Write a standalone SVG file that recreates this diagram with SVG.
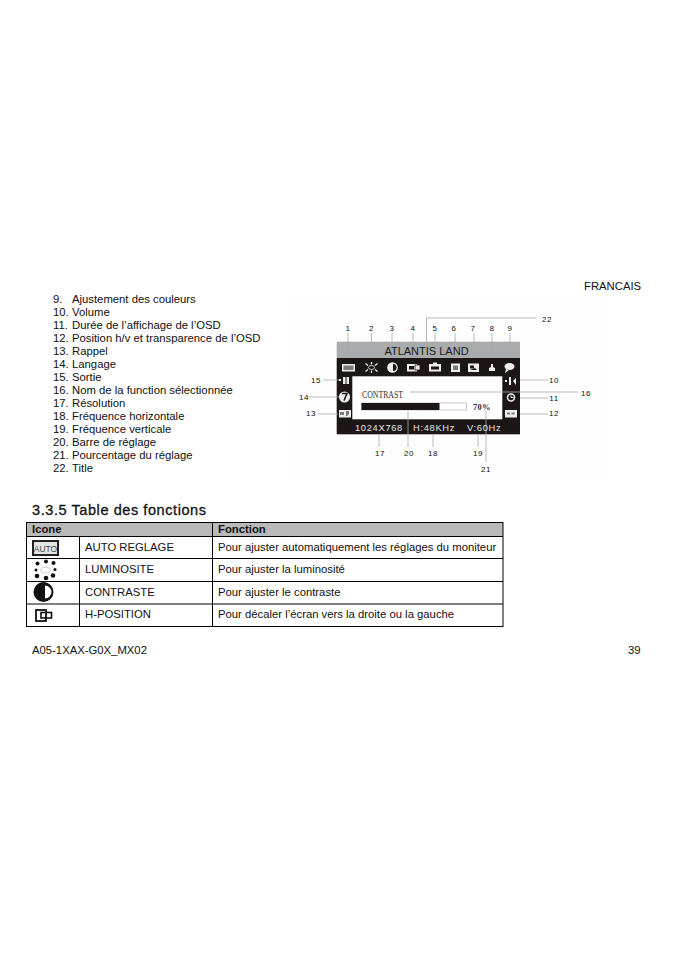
<svg xmlns="http://www.w3.org/2000/svg" width="674" height="954" viewBox="0 0 674 954">
<style>
text{font-family:"Liberation Sans",Arial,sans-serif;fill:#111}
.t{font-size:11.3px}
.h{font-size:11.3px;font-weight:bold}
.n{font-family:"Liberation Serif",serif;font-size:8px;fill:#444;text-anchor:middle;letter-spacing:.6px}
.c line,.c path{stroke:#aaa;stroke-width:.8;fill:none}
.g line{stroke:#000;stroke-width:1}
.w{fill:#eee}
.k{fill:#1c1716}
.m{fill:#7a7a7a}
.o{fill:#e6e6e6;font-size:9.300px;letter-spacing:.7px}
.s{font-family:"Liberation Serif",serif;fill:#333}
</style>
<rect width="674" height="954" fill="#fff"/>
<rect x="288" y="296" width="314" height="182" fill="#fdfdfd"/>
<text class="t" x="584" y="290">FRANCAIS</text>
<g id="list" class="t">
<text x="53" y="303">9.</text><text x="72" y="303">Ajustement des couleurs</text>
<text x="53" y="316">10.</text><text x="72" y="316">Volume</text>
<text x="53" y="329">11.</text><text x="72" y="329">Durée de l’affichage de l’OSD</text>
<text x="53" y="342">12.</text><text x="72" y="342">Position h/v et transparence de l’OSD</text>
<text x="53" y="355">13.</text><text x="72" y="355">Rappel</text>
<text x="53" y="368">14.</text><text x="72" y="368">Langage</text>
<text x="53" y="381">15.</text><text x="72" y="381">Sortie</text>
<text x="53" y="394">16.</text><text x="72" y="394">Nom de la function sélectionnée</text>
<text x="53" y="407">17.</text><text x="72" y="407">Résolution</text>
<text x="53" y="420">18.</text><text x="72" y="420">Fréquence horizontale</text>
<text x="53" y="433">19.</text><text x="72" y="433">Fréquence verticale</text>
<text x="53" y="446">20.</text><text x="72" y="446">Barre de réglage</text>
<text x="53" y="459">21.</text><text x="72" y="459">Pourcentage du réglage</text>
<text x="53" y="472">22.</text><text x="72" y="472">Title</text>
</g>
<g id="osd">
<rect x="336.700" y="341.700" width="183.300" height="16.500" fill="#a9abad"/>
<rect class="k" x="336.700" y="358" width="183.300" height="76.300"/>
<rect x="352.300" y="376.300" width="150" height="43" fill="#fff"/>
</g>
<g id="connectors" class="c">
<path d="M426.500 353V318H537"/>
<line x1="348" y1="333" x2="348" y2="358"/>
<line x1="371.500" y1="333" x2="371.500" y2="358"/>
<line x1="392" y1="333" x2="392" y2="358"/>
<line x1="413" y1="333" x2="413" y2="358"/>
<line x1="435" y1="333" x2="435" y2="358"/>
<line x1="455" y1="333" x2="455" y2="358"/>
<line x1="474" y1="333" x2="474" y2="358"/>
<line x1="492" y1="333" x2="492" y2="358"/>
<line x1="510" y1="333" x2="510" y2="358"/>
<line x1="323" y1="380" x2="340" y2="380"/>
<line x1="308" y1="397" x2="340" y2="397"/>
<line x1="318" y1="414" x2="338" y2="414"/>
<line x1="520" y1="380" x2="548" y2="380"/>
<line x1="520" y1="398" x2="548" y2="398"/>
<line x1="520" y1="414" x2="548" y2="414"/>
<line x1="410" y1="392" x2="578" y2="392"/>
<line x1="379" y1="434" x2="379" y2="447"/>
<line x1="408" y1="411" x2="408" y2="447"/>
<line x1="433" y1="434" x2="433" y2="447"/>
<line x1="478" y1="434" x2="478" y2="447"/>
<line x1="486" y1="411" x2="486" y2="462"/>
</g>
<g id="osd-text">
<text x="426.500" y="355" font-size="11" text-anchor="middle" style="fill:#1a1a1a">ATLANTIS LAND</text>
<text class="s" x="362" y="398" font-size="9.500" textLength="41" lengthAdjust="spacingAndGlyphs">CONTRAST</text>
<rect x="361.500" y="403" width="105" height="7" fill="#fff" stroke="#bbb" stroke-width=".8"/>
<rect class="k" x="361.500" y="403" width="78" height="7"/>
<text class="s" x="473" y="410" font-size="8.500" font-weight="bold" letter-spacing=".3">70%</text>
<text class="o" x="355" y="431">1024X768</text>
<text class="o" x="413" y="431">H:48KHz</text>
<text class="o" x="467" y="431">V:60Hz</text>
</g>
<g id="osd-icons">
<g id="i1"><rect class="w" x="342" y="364" width="13" height="7.500"/><rect class="m" x="343.500" y="365.500" width="10" height="4.500"/></g>
<g id="i2"><ellipse cx="371.500" cy="367.500" rx="3" ry="2" fill="none" stroke="#eee" stroke-width=".8"/><g stroke="#eee" stroke-width="1.300"><line x1="365.500" y1="363.500" x2="368" y2="365.500"/><line x1="377.500" y1="363.500" x2="375" y2="365.500"/><line x1="365.500" y1="371.500" x2="368" y2="369.500"/><line x1="377.500" y1="371.500" x2="375" y2="369.500"/><line x1="371.500" y1="362" x2="371.500" y2="364.500"/><line x1="371.500" y1="370.500" x2="371.500" y2="373"/></g></g>
<g id="i3"><circle class="w" cx="392.500" cy="367.500" r="5.300"/><path class="k" d="M393 364a3.500 3.500 0 0 1 0 7z"/></g>
<g id="i4"><rect class="w" x="407" y="364" width="10" height="7.500"/><rect class="w" x="415" y="365" width="5" height="5" stroke="#1c1716" stroke-width=".8"/><rect class="k" x="409" y="366" width="5" height="3.500"/></g>
<g id="i5"><rect class="w" x="429" y="364" width="12" height="7.500"/><rect class="k" x="431" y="366.500" width="8" height="3"/><rect class="w" x="433" y="362.500" width="4" height="2"/></g>
<g id="i6"><rect class="w" x="451" y="363.500" width="9" height="8.500"/><rect class="m" x="453" y="365.500" width="5" height="4.500"/></g>
<g id="i7"><rect class="w" x="468" y="363.500" width="11" height="8.500"/><rect class="k" x="470" y="365.500" width="4" height="3"/><path class="k" d="M470 370l5-2 2 2z"/></g>
<path id="i8" class="w" d="M489 371v-3l2-1v-3h2v3l2 1v3z"/>
<g id="i9"><ellipse class="w" cx="509.500" cy="366.500" rx="5" ry="3.500"/><path class="w" d="M506 369l-1 4 4-3z"/></g>
<g id="i10" class="w"><rect x="505" y="380" width="2" height="2"/><rect x="509" y="377" width="2" height="8"/><path d="M513 381l3-3v7z"/></g>
<g id="i11"><circle class="w" cx="511" cy="397.500" r="4.300"/><circle class="k" cx="511" cy="397.500" r="2.800"/><path d="M511 395.500v2h2.500" stroke="#eee" fill="none"/></g>
<g id="i12"><rect class="w" x="505" y="410" width="12" height="7.500"/><rect class="m" x="507" y="412.500" width="3" height="2"/><rect class="m" x="511.500" y="412.500" width="3" height="2"/></g>
<g id="i13"><rect class="w" x="339" y="410" width="12" height="7.500"/><path class="m" d="M340 412h4v3h-4zM346 411h3v3l-2 2h-1z"/></g>
<g id="i14"><circle class="w" cx="344.500" cy="397" r="5.500"/><path d="M342 393.500h5l-3 7" stroke="#1c1716" stroke-width="1.600" fill="none"/></g>
<g id="i15" class="w"><rect x="339" y="379" width="2" height="2"/><rect x="343" y="377" width="2.500" height="7"/><rect x="346.500" y="377" width="2.500" height="7"/></g>
</g>
<g id="numbers" class="n">
<text x="348" y="331">1</text><text x="371.500" y="331">2</text><text x="392" y="331">3</text><text x="413" y="331">4</text><text x="435" y="331">5</text><text x="454" y="331">6</text><text x="473" y="331">7</text><text x="492" y="331">8</text><text x="510" y="331">9</text>
<text x="547" y="321.500">22</text>
<text x="316" y="383">15</text><text x="304" y="400">14</text><text x="311" y="416">13</text>
<text x="554" y="383">10</text><text x="554" y="401">11</text><text x="554" y="416">12</text><text x="586" y="396">16</text>
<text x="380" y="456">17</text><text x="409" y="456">20</text><text x="433" y="456">18</text><text x="478" y="456">19</text><text x="486" y="472">21</text>
</g>
<text id="title" x="32" y="515" textLength="174" lengthAdjust="spacing" style="font-size:14.500px;stroke:#111;stroke-width:.3px">3.3.5 Table des fonctions</text>
<g id="table" class="g">
<rect x="26.500" y="522.500" width="476.500" height="14" fill="#b9b9b9"/>
<line x1="26.500" y1="522.500" x2="503" y2="522.500"/>
<line x1="26.500" y1="536.500" x2="503" y2="536.500"/>
<line x1="26.500" y1="558.500" x2="503" y2="558.500"/>
<line x1="26.500" y1="581.500" x2="503" y2="581.500"/>
<line x1="26.500" y1="604" x2="503" y2="604"/>
<line x1="26.500" y1="626.500" x2="503" y2="626.500"/>
<line x1="26.500" y1="522" x2="26.500" y2="627"/>
<line x1="79.500" y1="536.500" x2="79.500" y2="627"/>
<line x1="212.500" y1="522" x2="212.500" y2="627"/>
<line x1="503" y1="522" x2="503" y2="627"/>
<text class="h" x="32" y="533">Icone</text><text class="h" x="218" y="533">Fonction</text>
<text class="t" x="85" y="551">AUTO REGLAGE</text><text class="t" x="218" y="551">Pour ajuster automatiquement les réglages du moniteur</text>
<text class="t" x="85" y="573">LUMINOSITE</text><text class="t" x="218" y="573">Pour ajuster la luminosité</text>
<text class="t" x="85" y="596">CONTRASTE</text><text class="t" x="218" y="596">Pour ajuster le contraste</text>
<text class="t" x="85" y="618">H-POSITION</text><text class="t" x="218" y="618">Pour décaler l’écran vers la droite ou la gauche</text>
</g>
<g id="table-icons">
<g><rect x="33" y="541" width="25" height="14" fill="#e4e4e4" stroke="#222" stroke-width="2"/><text x="45.500" y="551.500" text-anchor="middle" style="font-size:8.500px;fill:#444">AUTO</text></g>
<g fill="#111"><circle cx="46" cy="561.500" r="2"/><circle cx="46" cy="578" r="2.300"/><circle cx="37.500" cy="563.500" r="2"/><circle cx="53.500" cy="563" r="2"/><circle cx="36" cy="570" r="1.500"/><circle cx="55" cy="569.500" r="1.500"/><circle cx="37" cy="576" r="2.300"/><circle cx="53" cy="575.500" r="2.300"/><ellipse cx="45.500" cy="570" rx="5" ry="3" fill="none" stroke="#bbb" stroke-width=".7"/></g>
<g><circle cx="43.500" cy="592" r="10" fill="#111"/><path d="M45 585.500a6.500 6.500 0 0 1 0 13z" fill="#fff"/></g>
<g fill="none" stroke="#111"><rect x="36" y="610" width="10" height="11" stroke-width="1.800"/><rect x="41" y="612.500" width="10.500" height="5.500" stroke-width="1.600"/></g>
</g>
<text class="t" x="32" y="654">A05-1XAX-G0X_MX02</text>
<text class="t" x="628" y="654">39</text>
</svg>
